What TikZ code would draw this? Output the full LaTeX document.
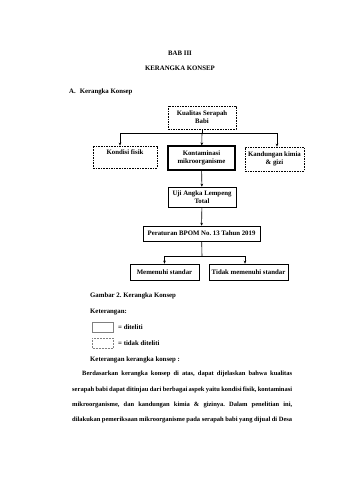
\documentclass[tikz,border=0pt]{standalone}
\usepackage{fontspec}
\setmainfont{Liberation Serif}
\usetikzlibrary{arrows.meta}
\frenchspacing
\newcommand\fs{\fontsize{6.8}{8}\selectfont\bfseries}
\newcommand\fsisi{\fontsize{6.5}{8}\selectfont\bfseries}
\tikzset{
  kotak/.style={draw, line width=0.6pt, align=center, inner sep=1pt, font=\fs},
  diteliti/.style={kotak, line width=1.1pt},
  tidakditeliti/.style={kotak, line width=0.8pt, dash pattern=on 1.6pt off 1pt},
  panah/.style={-{Stealth[length=3pt,width=2.6pt]}, line width=0.6pt},
  teks/.style={font=\fs, inner sep=0pt, anchor=west},
  isi/.style={font=\fsisi, inner sep=0pt, anchor=west}
}
\begin{document}
\begin{tikzpicture}[x=1pt, y=-1pt]
  \useasboundingbox[fill=white] (0,0) rectangle (339,480);
  % judul
  \node[font=\fs, inner sep=0pt] (bab) at (180,53) {BAB III};
  \node[font=\fs, inner sep=0pt] (judul) at (180,68) {KERANGKA KONSEP};
  \node[teks] (subbab) at (69,92) {A.\hspace{4pt}Kerangka Konsep};
  % kotak kerangka
  \node[tidakditeliti, minimum width=68pt, minimum height=23pt] (kualitas) at (202,117.5) {Kualitas Serapah\\Babi};
  \node[tidakditeliti, minimum width=64pt, minimum height=22pt] (fisik) at (125,157) {Kondisi fisik\\[2pt]};
  \node[diteliti, minimum width=67pt, minimum height=24pt] (kontam) at (201.5,158) {Kontaminasi\\mikroorganisme};
  \node[tidakditeliti, minimum width=59pt, minimum height=24pt] (kandungan) at (274.5,159) {Kandungan kimia\\\& gizi};
  \node[kotak, minimum width=68pt, minimum height=20pt] (uji) at (202,197) {Uji Angka Lempeng\\Total};
  \node[kotak, minimum width=117pt, minimum height=15pt] (bpom) at (201.5,233.5) {Peraturan BPOM No. 13 Tahun 2019};
  \node[kotak, minimum width=69pt, minimum height=16pt] (memenuhi) at (164.5,272) {Memenuhi standar};
  \node[kotak, minimum width=79pt, minimum height=16pt] (tidak) at (248.5,272) {Tidak memenuhi standar};
  % panah
  \coordinate (cabang) at (202,133);
  \draw[line width=0.6pt] (kualitas) -- (cabang);
  \draw[panah] (cabang) -| ([xshift=-5pt]fisik.north);
  \draw[panah] (cabang) -- (kontam);
  \draw[panah] (cabang) -| ([xshift=2.5pt]kandungan.north);
  \draw[panah] (kontam) -- (uji);
  \draw[panah] (uji) -- (bpom);
  \coordinate (cabang2) at (202,256);
  \draw[line width=0.6pt] (bpom) -- (cabang2);
  \draw[panah] (cabang2) -| (memenuhi.north);
  \draw[panah] (cabang2) -| ([xshift=-3.5pt]tidak.north);
  % keterangan
  \node[teks] (gambar) at (90,296) {Gambar 2. Kerangka Konsep};
  \node[teks] (ket) at (90,312) {Keterangan:};
  \draw[gray, line width=0.5pt] (92,322) rectangle (113,332);
  \draw[gray, line width=0.5pt, densely dotted] (92,338) rectangle (113,348);
  \node[teks] (ket1) at (118,327) {= diteliti};
  \node[teks] (ket2) at (118,343) {= tidak diteliti};
  \node[teks] (ket3) at (90,360) {Keterangan kerangka konsep :};
  % paragraf
  \node[isi] (baris1) at (82,374) {\makebox[210pt][s]{Berdasarkan kerangka konsep di atas, dapat dijelaskan bahwa kualitas}};
  \node[isi] (baris2) at (72,389.5) {\makebox[220pt][s]{serapah babi dapat ditinjau dari berbagai aspek yaitu kondisi fisik, kontaminasi}};
  \node[isi] (baris3) at (72,405) {\makebox[220pt][s]{mikroorganisme, dan kandungan kimia \& gizinya. Dalam penelitian ini,}};
  \node[isi] (baris4) at (72,420) {\makebox[220pt][s]{dilakukan pemeriksaan mikroorganisme pada serapah babi yang dijual di Desa}};
\end{tikzpicture}
\end{document}
